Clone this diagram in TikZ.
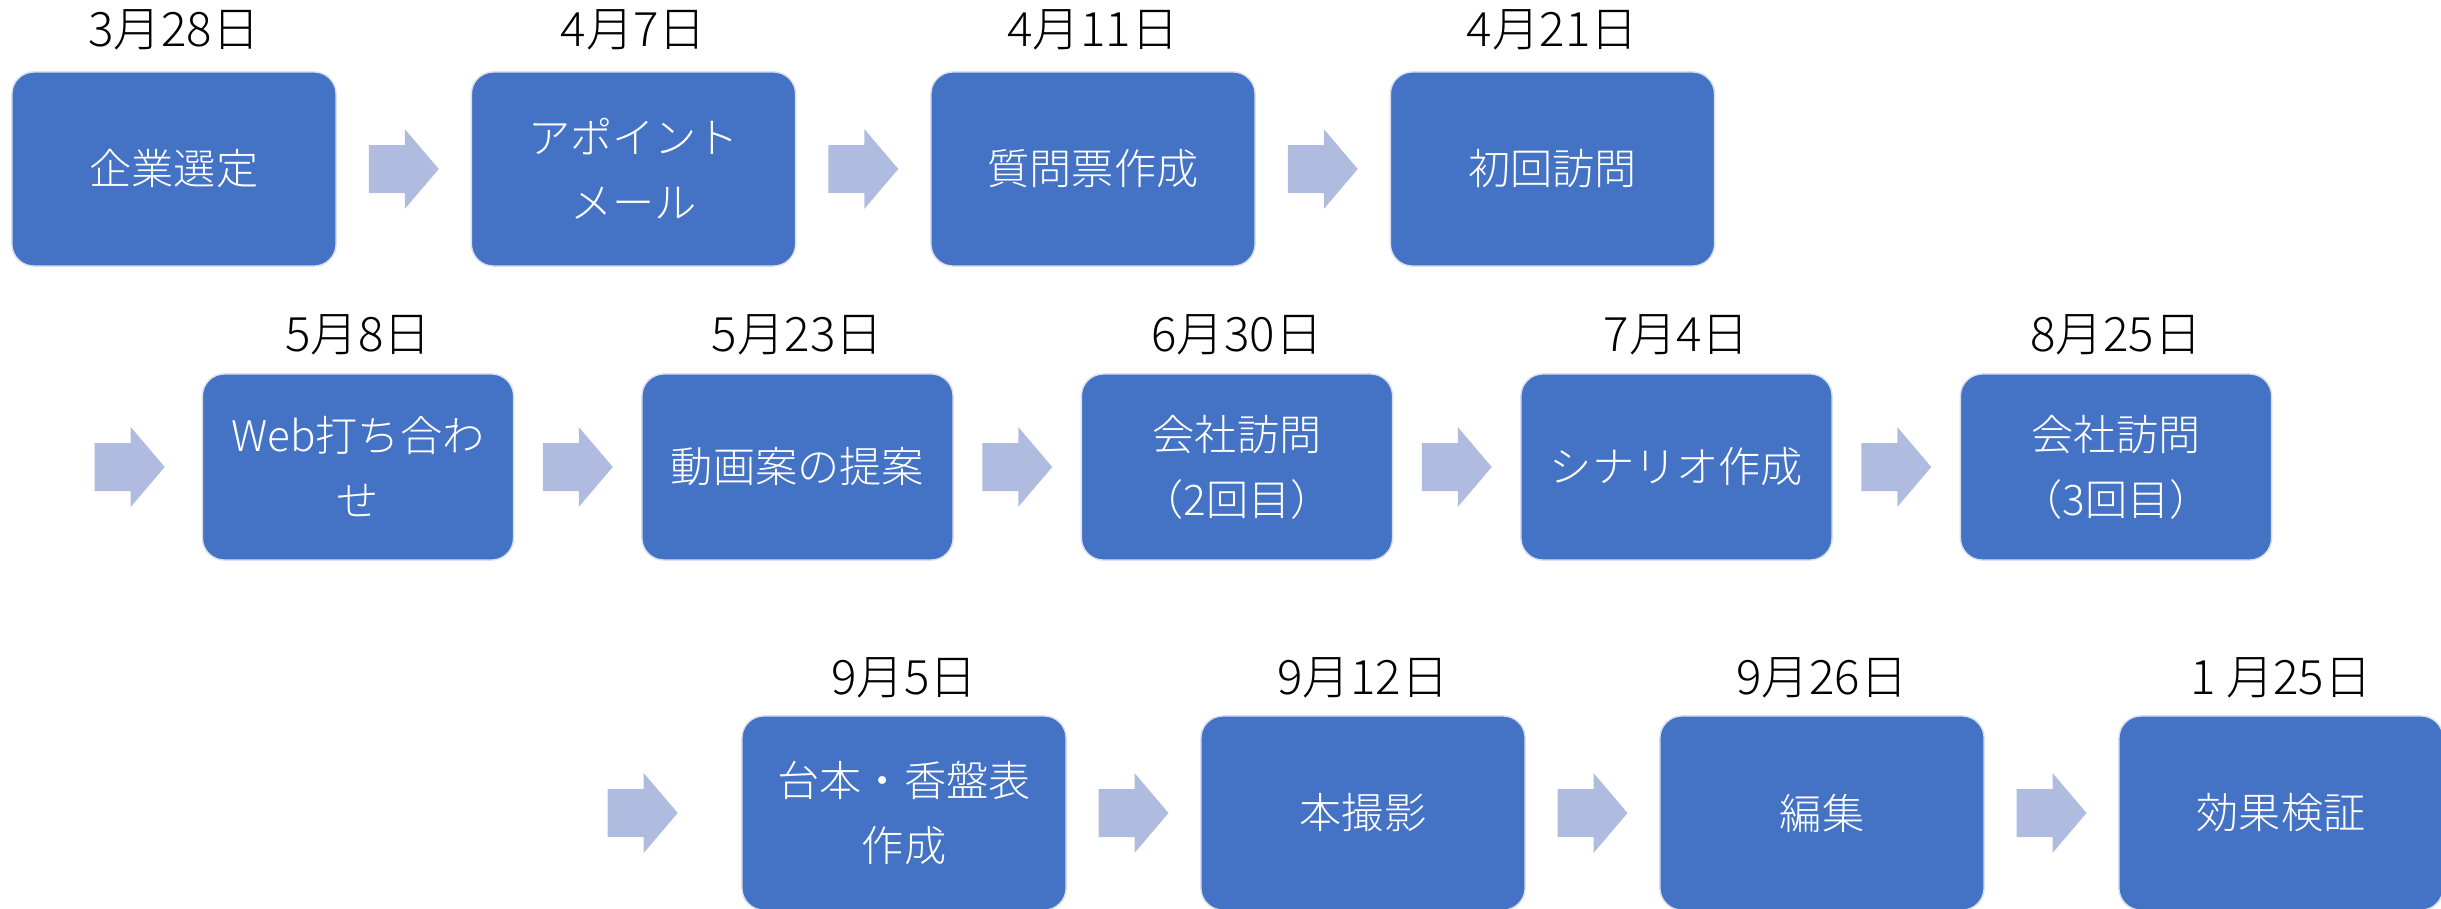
\documentclass[tikz,border=0pt]{standalone}
\usepackage{fontspec}
\setmainfont{Noto Sans CJK JP}
\newfontfamily\lightfont{Noto Sans CJK JP Light}
\usetikzlibrary{calc}
\definecolor{boxblue}{HTML}{4472C4}
\definecolor{arrowblue}{HTML}{B0BCDF}
\definecolor{boxedge}{HTML}{D6DEEF}
\tikzset{
  stepbox/.style={rectangle, rounded corners=0.22cm, fill=boxblue, draw=boxedge, line width=0.4pt,
    text=white, align=center, inner sep=0pt, font=\lightfont\fontsize{12}{18.5}\selectfont},
  bigbox/.style={stepbox, minimum width=3.24cm, minimum height=1.94cm},
  smallbox/.style={stepbox, minimum width=3.11cm, minimum height=1.86cm},
  datelabel/.style={text=black, inner sep=0pt, font=\lightfont\fontsize{13.5}{16}\selectfont},
  blockarrow/.pic={\fill[arrowblue] (-35,-24) -- (1,-24) -- (1,-40) -- (35,0) -- (1,40) -- (1,24) -- (-35,24) -- cycle;}
}
\begin{document}
\begin{tikzpicture}[x=0.01cm, y=-0.01cm]
\useasboundingbox (0,0) rectangle (2441,909);
\clip (0,0) rectangle (2441,909);
% row 1
\node[bigbox] (b1) at (174,169) {企業選定};
\node[bigbox] (b2) at (633.5,169) {アポイント\\メール};
\node[bigbox] (b3) at (1093,169) {質問票作成};
\node[bigbox] (b4) at (1552.5,169) {初回訪問};
% row 2
\node[smallbox] (b5) at (358,467) {Web打ち合わ\\せ};
\node[smallbox] (b6) at (797.5,467) {動画案の提案};
\node[smallbox] (b7) at (1237,467) {会社訪問\\（2回目）};
\node[smallbox] (b8) at (1676.5,467) {シナリオ作成};
\node[smallbox] (b9) at (2116,467) {会社訪問\\（3回目）};
% row 3
\node[bigbox] (b10) at (904,813) {台本・香盤表\\作成};
\node[bigbox] (b11) at (1363,813) {本撮影};
\node[bigbox] (b12) at (1822,813) {編集};
\node[bigbox] (b13) at (2281,813) {効果検証};
% dates
\node[datelabel] (d1) at ($(b1.north)+(0,-41)$) {3月28日};
\node[datelabel] (d2) at ($(b2.north)+(0,-41)$) {4月7日};
\node[datelabel] (d3) at ($(b3.north)+(0,-41)$) {4月11日};
\node[datelabel] (d4) at ($(b4.north)+(0,-41)$) {4月21日};
\node[datelabel] (d5) at ($(b5.north)+(0,-38)$) {5月8日};
\node[datelabel] (d6) at ($(b6.north)+(0,-38)$) {5月23日};
\node[datelabel] (d7) at ($(b7.north)+(0,-38)$) {6月30日};
\node[datelabel] (d8) at ($(b8.north)+(0,-38)$) {7月4日};
\node[datelabel] (d9) at ($(b9.north)+(0,-38)$) {8月25日};
\node[datelabel] (d10) at ($(b10.north)+(0,-37)$) {9月5日};
\node[datelabel] (d11) at ($(b11.north)+(0,-37)$) {9月12日};
\node[datelabel] (d12) at ($(b12.north)+(0,-37)$) {9月26日};
\node[datelabel] (d13) at ($(b13.north)+(0,-37)$) {1 月25日};
% arrows
\coordinate (s2) at ($(b5.west)+(-72,0)$);
\coordinate (s3) at ($(b10.west)+(-98.5,0)$);
\pic at ($(b1.east)!0.5!(b2.west)$) {blockarrow};
\pic at ($(b2.east)!0.5!(b3.west)$) {blockarrow};
\pic at ($(b3.east)!0.5!(b4.west)$) {blockarrow};
\pic at (s2) {blockarrow};
\pic at ($(b5.east)!0.5!(b6.west)$) {blockarrow};
\pic at ($(b6.east)!0.5!(b7.west)$) {blockarrow};
\pic at ($(b7.east)!0.5!(b8.west)$) {blockarrow};
\pic at ($(b8.east)!0.5!(b9.west)$) {blockarrow};
\pic at (s3) {blockarrow};
\pic at ($(b10.east)!0.5!(b11.west)$) {blockarrow};
\pic at ($(b11.east)!0.5!(b12.west)$) {blockarrow};
\pic at ($(b12.east)!0.5!(b13.west)$) {blockarrow};
\end{tikzpicture}
\end{document}
